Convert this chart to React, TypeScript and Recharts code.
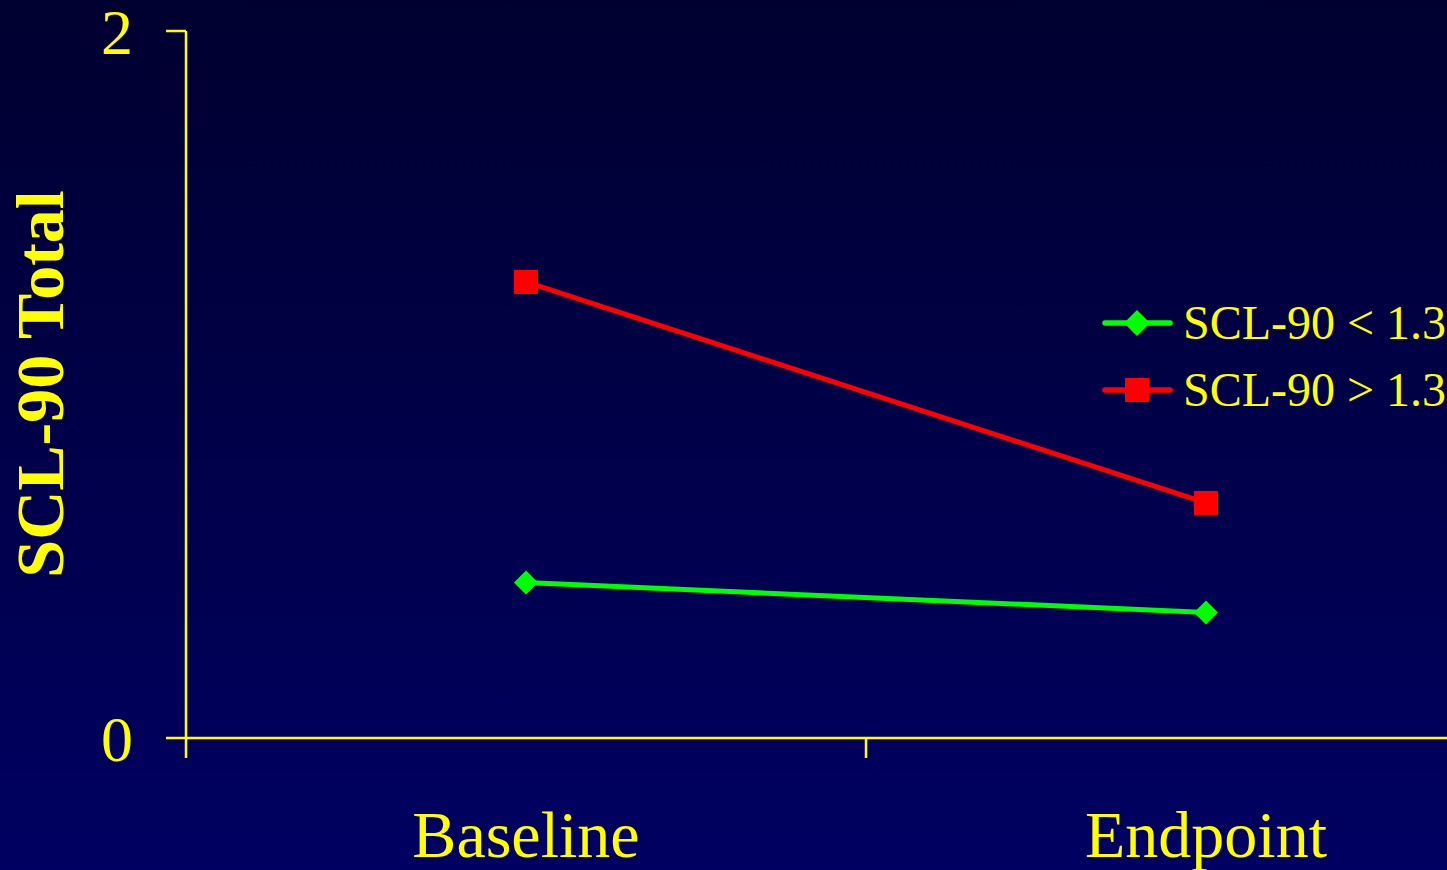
import React from "react";
import { LineChart, Line, XAxis, YAxis } from "recharts";

const categories = ["Baseline", "Endpoint"];
const lowSeries = [0.44, 0.355];
const highSeries = [1.29, 0.665];
const yTicks = [0, 2];
const xTicks = [0, 0.5, 1, 1.5, 2];
const seriesNames = ["SCL-90 < 1.3", "SCL-90 > 1.3"];

const data = categories.map((name, i) => ({
  x: i + 0.5,
  name,
  low: lowSeries[i],
  high: highSeries[i],
}));

const YEL = "#ffff00";
const FONT = "'Liberation Serif', 'Times New Roman', serif";

const Diamond = (props: any) => {
  const { cx, cy } = props;
  if (cx == null || cy == null) return null;
  const r = 12;
  return (
    <path
      d={`M${cx},${cy - r} L${cx + r},${cy} L${cx},${cy + r} L${cx - r},${cy} Z`}
      fill="#00ff00"
    />
  );
};

const Square = (props: any) => {
  const { cx, cy } = props;
  if (cx == null || cy == null) return null;
  const s = 12;
  return <rect x={cx - s} y={cy - s} width={s * 2} height={s * 2} fill="#ff0000" />;
};

const XTick = (props: any) => {
  const { x, y, payload } = props;
  const v = payload.value;
  if (Number.isInteger(v)) {
    return <line x1={x} y1={y} x2={x} y2={y + 20} stroke={YEL} strokeWidth={2.5} />;
  }
  const idx = Math.round(v - 0.5);
  return (
    <text x={x} y={y + 119} textAnchor="middle" fill={YEL} fontSize={66} fontFamily={FONT}>
      {categories[idx]}
    </text>
  );
};

const YTick = (props: any) => {
  const { x, y, payload } = props;
  return (
    <g>
      <line x1={x - 20} y1={y} x2={x} y2={y} stroke={YEL} strokeWidth={2.5} />
      <text x={x - 53} y={y + 23} textAnchor="end" fill={YEL} fontSize={64} fontFamily={FONT}>
        {payload.value}
      </text>
    </g>
  );
};

const LegendBox = () => {
  const rows = [
    { name: seriesNames[0], color: "#00ff00", kind: "diamond" },
    { name: seriesNames[1], color: "#ff0000", kind: "square" },
  ];
  return (
    <div style={{ position: "absolute", left: 1102, top: 289 }}>
      {rows.map((r) => (
        <div key={r.name} style={{ display: "flex", alignItems: "center", height: 67 }}>
          <svg width={81} height={30} style={{ display: "block" }}>
            <line x1={3} y1={15} x2={68} y2={15} stroke={r.color} strokeWidth={5.5} strokeLinecap="round" />
            {r.kind === "diamond" ? (
              <path d="M35,2 L48,15 L35,28 L22,15 Z" fill={r.color} />
            ) : (
              <rect x={23} y={3} width={24} height={24} fill={r.color} />
            )}
          </svg>
          <span style={{ color: YEL, fontSize: 48, fontFamily: FONT, marginLeft: 0, whiteSpace: "nowrap" }}>
            {r.name}
          </span>
        </div>
      ))}
    </div>
  );
};

export default function App() {
  return (
    <div
      style={{
        position: "absolute",
        left: 0,
        top: 0,
        width: 1447,
        height: 870,
        overflow: "hidden",
        background: "linear-gradient(to bottom, #000030 0%, #000062 100%)",
      }}
    >
      <LineChart
        width={1600}
        height={870}
        data={data}
        margin={{ top: 31, right: 54, bottom: 0, left: 0 }}
      >
        <XAxis
          dataKey="x"
          type="number"
          domain={[0, 2]}
          ticks={xTicks}
          interval={0}
          axisLine={{ stroke: YEL, strokeWidth: 2.5 }}
          tickLine={false}
          tickSize={0}
          tickMargin={0}
          tick={<XTick />}
          height={132}
        />
        <YAxis
          type="number"
          domain={[0, 2]}
          ticks={yTicks}
          interval={0}
          width={186}
          axisLine={{ stroke: YEL, strokeWidth: 2.5 }}
          tickLine={false}
          tickSize={0}
          tickMargin={0}
          tick={<YTick />}
          label={{
            value: "SCL-90 Total",
            content: () => (
              <text
                x={40}
                y={384}
                transform="rotate(-90 40 384)"
                textAnchor="middle"
                dominantBaseline="central"
                fill={YEL}
                fontSize={68}
                fontWeight="bold"
                fontFamily={FONT}
              >
                SCL-90 Total
              </text>
            ),
          }}
        />
        <Line
          dataKey="low"
          name={seriesNames[0]}
          stroke="#00ff00"
          strokeWidth={5}
          dot={<Diamond />}
          activeDot={false}
          isAnimationActive={false}
        />
        <Line
          dataKey="high"
          name={seriesNames[1]}
          stroke="#ff0000"
          strokeWidth={5}
          dot={<Square />}
          activeDot={false}
          isAnimationActive={false}
        />
      </LineChart>
      <LegendBox />
    </div>
  );
}
